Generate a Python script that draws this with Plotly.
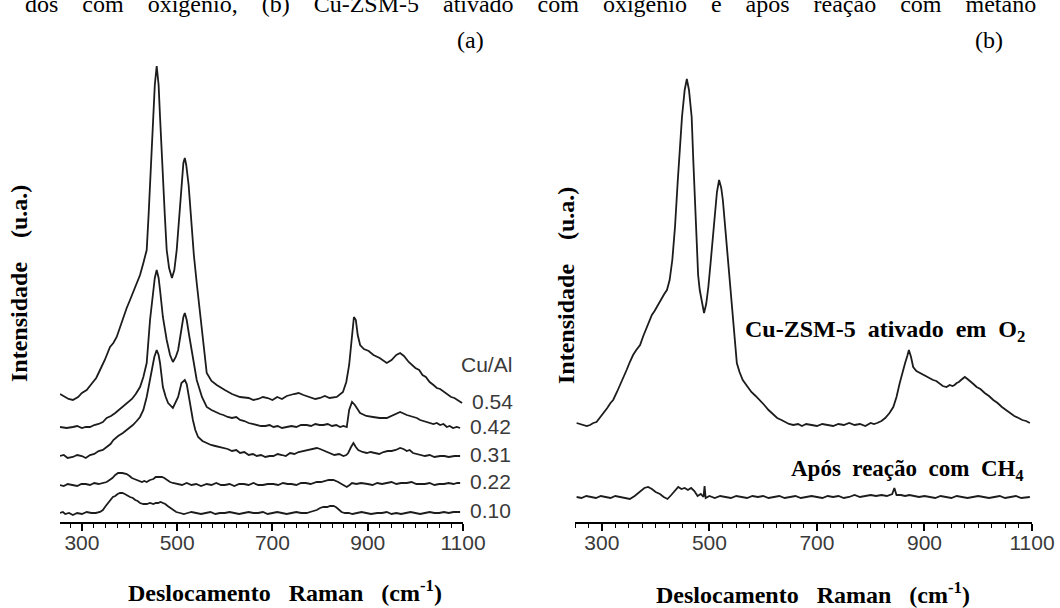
import plotly.graph_objects as go

# ---------------- data (wavenumber in cm-1, intensity in a.u.) ----------------
x054 = [254,262,272,281,292,300,310,320,330,338,348,359,366,373,380,387,394,401,408,415,422,429,436,440,443,446,449,453,457,461,464,467,470,474,478,483,489,494,499,503,506,510,513,516,519,524,529,535,541,547,552,557,562,572,583,600,615,632,650,660,670,680,690,700,710,720,730,745,755,765,780,790,800,810,820,835,848,855,861,866,871,875,879,884,892,902,912,925,940,950,960,968,976,986,1000,1008,1015,1022,1030,1038,1045,1052,1060,1068,1075,1082,1088,1098]
y054 = [128,126,123,122,125,129,132,138,144,152,162,175,179,185,195,205,214,222,230,239,247,259,272,307,339,372,405,437,456,437,405,372,339,307,272,254,244,252,272,297,322,344,359,364,357,337,305,267,239,212,189,167,149,141,137,132,128,125,124,122,123,125,124,122,125,123,126,128,129,127,125,123,124,126,124,125,130,140,157,182,205,202,187,177,173,171,167,164,159,162,167,169,166,160,154,152,147,145,140,137,134,133,130,127,125,124,122,119]

x042 = [254,268,281,290,300,308,317,326,335,344,352,361,370,378,386,395,405,413,422,429,436,443,449,453,457,461,464,470,478,485,491,497,502,509,513,516,520,525,533,541,552,562,572,580,590,597,606,615,624,632,641,650,659,667,676,685,694,702,711,720,730,740,750,760,772,781,790,799,807,816,825,834,842,849,856,861,867,873,884,897,911,925,940,955,968,982,995,1003,1010,1017,1024,1031,1038,1045,1052,1059,1066,1072,1079,1087,1094]
y042 = [95,94,95,96,94,95,95,97,98,100,104,106,109,112,115,119,123,128,135,145,159,202,227,244,252,244,232,205,182,167,160,165,172,192,205,209,202,187,165,142,125,115,112,110,108,107,105,104,105,102,101,99,98,97,96,96,97,95,96,94,95,96,95,97,97,96,98,97,97,98,96,97,95,96,95,112,120,117,109,106,105,104,104,107,110,107,105,104,102,101,100,99,98,99,97,98,95,96,94,95,94]

x031 = [254,262,270,281,290,300,308,317,326,335,344,352,360,366,376,386,397,407,415,422,429,436,442,447,452,457,461,464,470,476,481,491,502,509,516,520,523,528,533,538,544,553,562,571,580,588,597,606,615,624,632,641,650,659,667,676,685,694,702,711,720,728,737,746,755,764,772,782,793,800,805,810,814,822,830,840,849,855,859,865,870,875,880,889,898,906,915,924,933,942,950,959,968,975,982,988,995,1002,1010,1020,1030,1040,1052,1061,1070,1082,1094]
y031 = [66,67,64,65,67,66,64,67,68,71,72,75,78,82,86,89,93,97,101,105,112,125,140,152,165,172,167,159,135,125,119,114,125,139,142,138,129,114,102,92,85,81,79,77,76,75,74,73,71,72,69,70,67,68,66,67,65,66,66,68,67,66,69,68,70,71,72,73,74,73,72,71,70,68,67,68,66,67,69,75,79,75,72,70,69,70,69,68,70,71,71,72,74,73,71,72,69,68,67,66,67,65,66,66,65,66,66]

x022 = [254,262,270,280,290,299,308,317,326,335,344,352,358,364,370,376,385,394,400,405,410,415,420,426,431,436,443,450,455,460,468,473,478,485,491,500,510,520,530,540,550,562,572,582,592,600,610,620,630,640,650,660,670,680,690,702,712,722,732,740,750,760,770,780,793,802,810,818,828,834,838,845,850,856,862,867,876,886,900,910,920,930,940,950,960,970,982,992,1002,1012,1020,1030,1040,1050,1060,1070,1080,1088,1094]
y022 = [37,36,38,37,36,38,38,37,39,38,39,40,42,44,47,49,49,48,46,44,43,42,41,40,41,40,42,43,45,45,45,44,42,40,39,38,37,39,37,38,36,38,37,39,37,37,38,36,38,38,37,39,37,37,38,38,37,39,38,38,37,39,39,38,40,40,41,42,42,41,40,38,37,35,37,39,38,39,38,37,39,38,39,40,38,39,39,40,38,38,38,39,37,38,38,39,38,39,39]

x010 = [254,260,265,273,281,290,300,310,320,329,338,344,350,355,359,365,370,375,380,385,390,396,401,407,412,417,422,429,436,443,450,455,460,465,470,475,480,486,491,498,506,514,522,530,540,550,560,570,580,590,600,610,620,630,640,650,660,670,680,690,700,710,720,730,740,750,760,772,779,786,793,800,807,815,821,828,833,838,845,852,860,868,877,887,897,907,920,930,940,950,960,970,980,990,1000,1010,1020,1030,1040,1050,1060,1070,1080,1088,1094]
y010 = [9,10,8,9,7,9,8,10,9,9,10,12,16,19,22,25,26,28,29,29,28,26,25,24,22,21,19,18,18,19,18,19,19,20,19,18,16,14,12,10,9,8,9,10,9,8,9,10,8,9,9,10,9,8,9,10,9,9,10,8,9,10,9,8,9,10,9,9,10,11,12,14,15,15,16,16,15,13,10,9,9,8,9,10,9,8,9,9,10,8,9,8,9,10,9,8,9,10,9,9,10,9,10,10,10]

cu_al_series = [(x054, y054, "0.54"), (x042, y042, "0.42"), (x031, y031, "0.31"),
                (x022, y022, "0.22"), (x010, y010, "0.10")]

x_o2 = [253,259,265,272,278,284,290,296,303,310,316,321,328,334,340,346,352,358,364,371,377,384,389,393,398,402,407,412,416,421,426,431,436,441,445,449,454,458,462,467,470,473,476,479,482,486,490,494,498,502,506,510,514,518,522,525,529,532,535,538,541,544,547,551,556,562,570,578,586,594,602,610,618,626,634,641,648,656,665,672,680,690,700,710,720,730,740,750,760,770,780,790,800,806,812,820,827,835,842,848,854,859,864,868,871,875,879,885,892,898,904,910,916,922,928,934,941,947,952,956,960,964,968,972,975,980,985,991,997,1004,1012,1020,1028,1036,1044,1051,1059,1067,1075,1082,1089,1096]
y_o2 = [99,98,97,96,97,99,100,104,109,114,119,122,130,137,144,152,160,167,172,177,186,195,201,207,211,215,220,224,228,232,242,262,295,340,375,405,432,443,432,405,362,322,272,247,232,219,209,218,235,258,283,308,330,342,334,322,297,272,255,239,222,202,182,159,150,142,136,130,126,122,117,112,108,104,102,100,98,97,98,96,98,97,96,98,97,96,98,97,99,97,98,96,99,98,99,101,104,109,115,125,139,150,159,166,172,165,155,151,149,147,145,144,142,141,138,136,135,137,136,137,139,140,142,144,145,143,141,138,135,133,129,126,122,119,115,112,109,106,104,102,101,99]

x_ch4 = [253,262,271,280,289,298,307,316,325,334,343,352,361,370,379,386,393,400,408,415,422,429,436,442,448,454,460,466,472,478,484,489,491,493,500,510,520,530,540,550,560,570,580,590,600,610,620,630,640,650,660,670,680,690,700,710,720,730,740,750,760,770,780,790,800,810,820,830,840,844,848,856,864,872,880,890,900,910,920,930,940,950,960,970,980,990,1000,1010,1020,1030,1040,1050,1060,1070,1080,1090,1096]
y_ch4 = [25,24,26,25,24,26,25,24,26,25,24,23,26,30,34,35,33,30,28,25,23,27,31,35,33,34,32,34,31,26,28,25,36,24,26,24,26,25,24,26,25,24,26,25,26,24,25,26,24,25,26,24,25,26,25,24,26,25,26,24,25,27,25,26,27,26,27,26,28,34,27,27,26,27,26,25,26,25,24,26,25,24,26,25,24,25,26,25,24,25,26,24,25,26,24,25,25]

tick_vals = [300, 500, 700, 900, 1100]
tick_text = ["300", "500", "700", "900", "1100"]

# ---------------- figure ----------------
W, H = 1060, 608
def px(x): return x / W
def py(y): return 1 - y / H

fig = go.Figure()
line = dict(color="#1c1c1c", width=1.8)
for xs, ys, lab in cu_al_series:
    fig.add_trace(go.Scatter(x=xs, y=ys, mode="lines", line=line, name=lab,
                             xaxis="x", yaxis="y", showlegend=False, hoverinfo="skip"))
fig.add_trace(go.Scatter(x=x_o2, y=y_o2, mode="lines", line=line, xaxis="x2", yaxis="y2",
                         showlegend=False, hoverinfo="skip"))
fig.add_trace(go.Scatter(x=x_ch4, y=y_ch4, mode="lines", line=line, xaxis="x2", yaxis="y2",
                         showlegend=False, hoverinfo="skip"))

SANS = "Liberation Sans"
SERIF = "Liberation Serif"

xcommon = dict(showline=True, linecolor="black", linewidth=2, ticks="outside", ticklen=7,
               tickwidth=1.5, tickcolor="black", tickmode="array", tickvals=tick_vals,
               ticktext=tick_text, tickfont=dict(family=SANS, size=21, color="#3a3a3a"),
               ticklabelstandoff=-6,
               showgrid=False, zeroline=False, automargin=False, fixedrange=True,
               minor=dict(ticks="outside", ticklen=4, tickwidth=1.2, tickcolor="black",
                          tick0=250, dtick=25, showgrid=False))
ycommon = dict(visible=False, range=[0, 462], domain=[py(522), py(60)], fixedrange=True)

fig.update_layout(
    width=W, height=H, margin=dict(l=0, r=0, t=0, b=0),
    paper_bgcolor="white", plot_bgcolor="white",
    xaxis=dict(domain=[px(60), px(463)], range=[254, 1100], anchor="y", **xcommon),
    yaxis=dict(anchor="x", **ycommon),
    xaxis2=dict(domain=[px(575), px(1032)], range=[250, 1100], anchor="y2", **xcommon),
    yaxis2=dict(anchor="x2", **ycommon),
)

serif_b = dict(family=SERIF, size=24, color="black")
serif_b2 = dict(family=SERIF, size=23, color="black")
serif = dict(family=SERIF, size=24, color="black")
sans = dict(family=SANS, size=21, color="#3a3a3a")
NB = "\u00a0"

def ann(text, x, y, font, xanchor="center", yanchor="middle", angle=0):
    fig.add_annotation(text=text, x=px(x), y=py(y), xref="paper", yref="paper",
                       showarrow=False, font=font, xanchor=xanchor, yanchor=yanchor,
                       textangle=angle)

# caption fragment at top (cut by page edge)
top = (NB * 4).join(["dos", "com", "oxigênio,", "(b)", "Cu-ZSM-5", "ativado", "com",
                     "oxigênio", "e", "após", "reação", "com", "metano"])
ann(top, 530, 4, serif)
ann("(a)", 470, 40, serif)
ann("(b)", 989, 40, serif)

title_x = "<b>Deslocamento" + NB * 3 + "Raman" + NB * 3 + "(cm<sup>-1</sup>)</b>"
ann(title_x, 285, 591, serif_b)
ann(title_x, 813, 593, serif_b)
title_y = "<b>Intensidade" + NB * 4 + "(u.a.)</b>"
ann(title_y, 19, 284, serif_b, angle=-90)
ann(title_y, 566, 286, serif_b, angle=-90)

# Cu/Al legend labels at the end of each series
fig.add_annotation(text="Cu/Al", x=px(486), y=py(364), xref="paper", yref="paper",
                   showarrow=False, font=sans)
for xs, ys, lab in cu_al_series:
    fig.add_annotation(text=lab, x=xs[-1], y=ys[-1], xref="x", yref="y", showarrow=False,
                       font=sans, xanchor="left", yanchor="middle", xshift=8, yshift=2)

ann("<b>Cu-ZSM-5" + NB * 2 + "ativado" + NB * 2 + "em" + NB * 2 + "O<sub>2</sub></b>", 885, 331, serif_b)
ann("<b>Após" + NB * 2 + "reação" + NB * 2 + "com" + NB * 2 + "CH<sub>4</sub></b>", 907, 470, serif_b2)

fig.write_html("out.html")
